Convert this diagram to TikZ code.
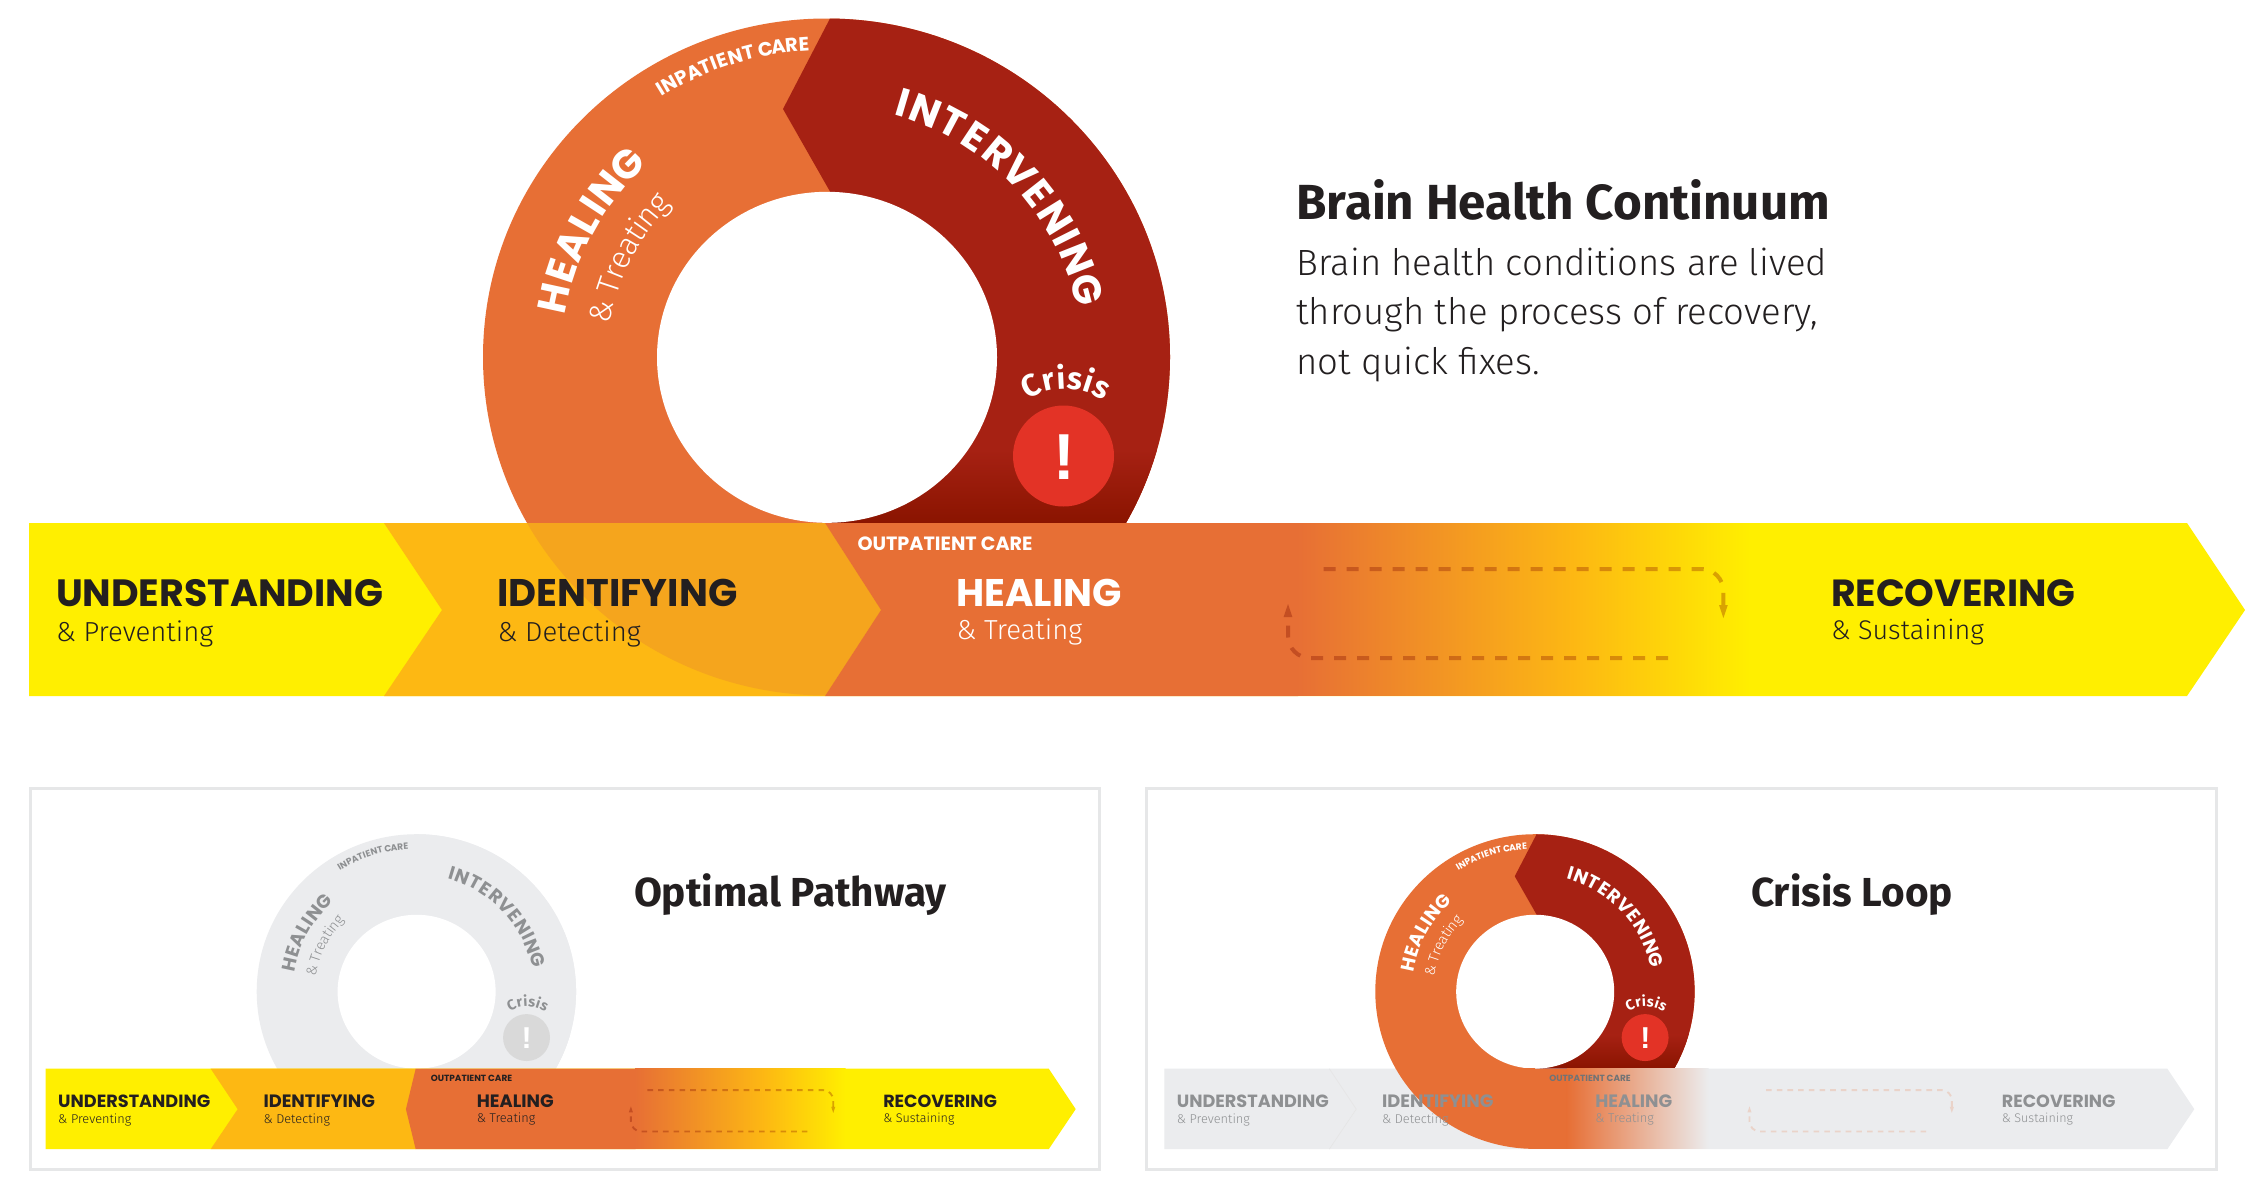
\documentclass[tikz,border=0pt]{standalone}
\usepackage{fontspec}
\setmainfont{Fira Sans}
\newfontfamily\fpop{Poppins}
\newfontfamily\flt{Fira Sans Light}
\newfontfamily\flib{Liberation Sans}
\definecolor{cyellow}{HTML}{FFEF00}
\definecolor{camber}{HTML}{FDB813}
\definecolor{corange}{HTML}{E76F35}
\definecolor{cover}{HTML}{F5A51D}
\definecolor{cred}{HTML}{A62113}
\definecolor{cdeep}{HTML}{8A1400}
\definecolor{calert}{HTML}{E33326}
\definecolor{cgray}{HTML}{EBECEE}
\definecolor{cink}{HTML}{231F20}
\definecolor{cmute}{HTML}{8E9092}
\definecolor{cframe}{HTML}{E6E7E8}
\definecolor{cdash}{HTML}{D9B4A8}
\newcommand\dsc{1}
\newcommand\fz[1]{\fontsize{\fpeval{#1*\dsc}}{\fpeval{#1*\dsc*1.2}}\selectfont}
\tikzset{lbl/.style={anchor=base west,inner sep=0pt,outer sep=0pt},
  loopdash/.style={dashc,blend mode=multiply}}
\newdimen\atot \newdimen\acum
% arc text: cx, cy, rx, ry, start, end, format, letter/weight list
\newcommand\arctext[8]{%
  \global\atot=0pt \global\acum=0pt
  \foreach \ch/\w in {#8}{\global\advance\atot by \w pt}%
  \foreach \ch/\w in {#8}{%
    \pgfmathsetmacro\aang{#5+(\acum+0.5*\w)/\atot*(#6-(#5))}%
    \global\advance\acum by \w pt
    \node[anchor=base,inner sep=0pt,outer sep=0pt,rotate=\aang-90] at ({#1+#3*cos(\aang)},{#2+#4*sin(\aang)}) {#7\ch};}%
}
\newcommand\outerell{(826.5,-357) ellipse [x radius=343.5pt,y radius=338.5pt]}
\newcommand\innerell{(827,-357.3) ellipse [x radius=170pt,y radius=165.5pt]}
\newcommand\ringpart{%
  \begin{scope}
    \clip (300,-523) rectangle (1300,0);
    \fill[ringA] \outerell;
    \begin{scope}
      \clip \outerell;
      \clip (837,-5)--(783,-109)--(830,-191.5)--(830,-523)--(1200,-523)--(1200,-5)--cycle;
      \fill[ringB] (700,-523) rectangle (1200,0);
      \shade[top color=ringB,bottom color=ringC] (700,-523) rectangle (1200,-450);
    \end{scope}
    \fill[white] \innerell;
  \end{scope}
  \fill[ringD] (1063.5,-456) circle (50.5pt);
  \node[lbl,anchor=base,text=white] (ex) at (1064,-479) {\flib\bfseries\fz{65}!};
  \arctext{826.5}{-357}{265}{261}{171}{132.5}{\fpop\bfseries\fz{40}\color{ringT}}{H/69,E/56,A/65,L/52,I/30,N/70,G/65}
  \arctext{826.5}{-357}{219}{216}{171}{135}{\flt\fz{31}\color{ringM}}{\&/68,~/26,T/52,r/38,e/54,a/52,t/34,i/26,n/57,g/52}
  \arctext{826.5}{-357}{255}{251}{75}{11.5}{\fpop\bfseries\fz{40}\color{ringT}}{I/30,N/70,T/56,E/56,R/62,V/62,E/56,N/70,I/30,N/70,G/65}
  \arctext{826.5}{-357}{311}{307}{122}{93}{\fpop\bfseries\fz{19.5}\color{ringT}}{I/30,N/70,P/60,A/65,T/56,I/30,E/56,N/70,T/56,~/26,C/58,A/65,R/62,E/56}
  \arctext{1065}{-456}{67}{67}{124}{55}{\bfseries\fz{31}\color{ringT}}{C/56,r/40,i/28,s/46,i/28,s/46}
}
\newcommand\bartext{%
  \node[lbl,text=barA] (t1) at (56,-606) {\fpop\bfseries\fz{38}UNDERSTANDING};
  \node[lbl,text=barA] (s1) at (56,-641) {\flt\fz{27.5}\& Preventing};
  \node[lbl,text=barA] (t2) at (497.6,-606) {\fpop\bfseries\fz{38.5}IDENTIFYING};
  \node[lbl,text=barA] (s2) at (497.6,-641) {\flt\fz{27.5}\& Detecting};
  \node[lbl,text=barB] (t3) at (956.5,-606) {\fpop\bfseries\fz{38.5}HEALING};
  \node[lbl,text=barB] (s3) at (956.5,-639) {\flt\fz{27.5}\& Treating};
  \node[lbl,text=barC] (op) at (857.5,-550) {\fpop\bfseries\fz{19.2}OUTPATIENT CARE};
  \node[lbl,text=barA] (t4) at (1831,-606.5) {\fpop\bfseries\fz{37.8}RECOVERING};
  \node[lbl,text=barA] (s4) at (1831,-639) {\flt\fz{27}\& Sustaining};
}
\newcommand\looparrows{%
  \coordinate (la) at (1323.7,-569); \coordinate (lb) at (1723.4,-569); \coordinate (lc) at (1723.4,-606);
  \coordinate (ld) at (1668,-658); \coordinate (le) at (1288,-658); \coordinate (lf) at (1288,-617);
  \draw[loopdash,line width=\fpeval{4*\dsc}pt,rounded corners=\fpeval{22*\dsc}pt,dash pattern=on \fpeval{12*\dsc}pt off \fpeval{11*\dsc}pt] (la)--(lb)--(lc);
  \draw[loopdash,line width=\fpeval{4*\dsc}pt,rounded corners=\fpeval{22*\dsc}pt,dash pattern=on \fpeval{12*\dsc}pt off \fpeval{11*\dsc}pt] (ld)--(le)--(lf);
  \fill[loopdash] (1723.4,-618)--(1719,-605)--(1727.8,-605)--cycle;
  \fill[loopdash] (1288,-604)--(1283.6,-617)--(1292.4,-617)--cycle;
}
\newcommand\wholebar{(29,-523)--(2187,-523)--(2245,-610)--(2187,-696)--(29,-696)--cycle}
\newcommand\idbar{(384,-523)--(825,-523)--(881,-610)--(825,-696)--(384,-696)--(442,-610)--cycle}
\newcommand\colorbar{%
  \fill[cyellow] \wholebar;
  \fill[camber] \idbar;
}
\newcommand\colorbarb[1]{%
  \fill[corange] (825,-523)--(1298,-523)--(1298,-696)--(825,-696)--(#1,-610)--cycle;
  \shade[left color=corange,right color=camber] (1297,-523.4) rectangle (1575,-695.6);
  \shade[left color=camber,right color=cyellow] (1574.5,-523.4) rectangle (1750,-695.6);
}
\begin{document}
\begin{tikzpicture}[x=1pt,y=1pt]
\useasboundingbox (0,-1192) rectangle (2248,0);
\fill[white] (0,-1192) rectangle (2248,0);
% ---------- main
\colorlet{ringA}{corange}\colorlet{ringB}{cred}\colorlet{ringC}{cdeep}\colorlet{ringD}{calert}\colorlet{ringT}{white}\colorlet{ringM}{white}
\colorlet{barA}{cink}\colorlet{barB}{white}\colorlet{barC}{white}\colorlet{dashc}{cdash}
\ringpart
\colorbar
\begin{scope}\clip \idbar; \fill[cover] \outerell; \end{scope}
\colorbarb{881}
\looparrows
\bartext
\node[lbl,text=cink] (title) at (1296.5,-219) {\bfseries\fz{49.3}Brain Health Continuum};
\node[lbl,text=cink] (b1) at (1296.5,-275) {\flt\fz{36.5}Brain health conditions are lived};
\node[lbl,text=cink] (b2) at (1296.5,-324.5) {\flt\fz{36.5}through the process of recovery,};
\node[lbl,text=cink] (b3) at (1296.5,-374) {\flt\fz{36.5}not quick fixes.};
% ---------- frames
\draw[cframe,line width=3pt] (30,-788) rectangle (1099,-1169);
\draw[cframe,line width=3pt] (1146,-788) rectangle (2216,-1169);
\node[lbl,text=cink] (tp) at (634,-906) {\bfseries\fz{40.5}Optimal Pathway};
\node[lbl,text=cink] (tc) at (1751,-906) {\bfseries\fz{40.5}Crisis Loop};
\renewcommand\dsc{0.4648}
% ---------- optimal pathway
\begin{scope}[shift={(32.22pt,-825.61pt)},scale=0.4648]
\colorlet{ringA}{cgray}\colorlet{ringB}{cgray}\colorlet{ringC}{cgray}\colorlet{ringD}{black!15}\colorlet{ringT}{cmute}\colorlet{ringM}{cmute}
\colorlet{barA}{cink}\colorlet{barB}{cink}\colorlet{barC}{cink}
\ringpart
\colorbar
\colorbarb{804}
\looparrows
\bartext
\end{scope}
% ---------- crisis loop
\begin{scope}[shift={(1150.8pt,-825.61pt)},scale=0.4648]
\colorlet{ringA}{corange}\colorlet{ringB}{cred}\colorlet{ringC}{cdeep}\colorlet{ringD}{calert}\colorlet{ringT}{white}\colorlet{ringM}{white}
\colorlet{barA}{cmute}\colorlet{barB}{cmute}\colorlet{barC}{cmute!80!black}\colorlet{dashc}{corange!20!cgray}
\tikzset{loopdash/.style={dashc}}
\ringpart
\fill[cgray] \wholebar;
\draw[black!10,line width=0.6pt] (384,-523)--(442,-610)--(384,-696);
\begin{scope}\clip (300,-523) rectangle (827,-696); \fill[corange] \outerell; \end{scope}
\fill[corange] (826,-523) rectangle (896,-696);
\shade[left color=corange,right color=cgray] (895,-523.4) rectangle (1200,-695.6);
\looparrows
\bartext
\end{scope}
\end{tikzpicture}
\end{document}
